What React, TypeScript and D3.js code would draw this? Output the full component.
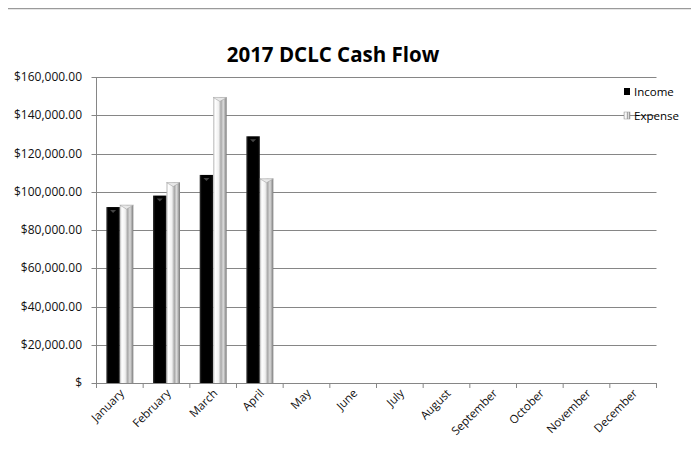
import React from "react";
import * as d3 from "d3";

const months = ["January","February","March","April","May","June","July","August","September","October","November","December"];
const income = [92000, 98000, 108800, 129000, null, null, null, null, null, null, null, null];
const expense = [93000, 104800, 149300, 106800, null, null, null, null, null, null, null, null];
const yTicks = [0, 20000, 40000, 60000, 80000, 100000, 120000, 140000, 160000];
const title = "2017 DCLC Cash Flow";
const seriesNames = ["Income", "Expense"];

const W = 699, H = 449;
const plot = { left: 96.5, right: 656.5, top: 77, bottom: 383 };
const font = "'Open Sans', 'Noto Sans', sans-serif";

export default function App() {
  const x = d3.scaleBand<string>().domain(months).range([plot.left, plot.right]).paddingInner(0).paddingOuter(0);
  const y = d3.scaleLinear().domain([0, 160000]).range([plot.bottom, plot.top]);
  const bw = x.bandwidth();
  const barW = 13.5;
  const gap = (bw - 2 * barW) / 2;
  const fmt = (v: number) => (v === 0 ? "$" : "$" + d3.format(",.2f")(v));

  return (
    <div style={{ margin: -8 }}>
      <svg width={W} height={H} style={{ display: "block", background: "#fff" }}>
        <defs>
          <linearGradient id="gInc" x1="0" x2="1" y1="0" y2="0">
            <stop offset="0%" stopColor="#3a3a3a" />
            <stop offset="15%" stopColor="#000" />
            <stop offset="85%" stopColor="#000" />
            <stop offset="100%" stopColor="#1a1a1a" />
          </linearGradient>
          <linearGradient id="gExp" x1="0" x2="1" y1="0" y2="0">
            <stop offset="0%" stopColor="#b8b8b8" />
            <stop offset="15%" stopColor="#ffffff" />
            <stop offset="40%" stopColor="#f0f0f0" />
            <stop offset="58%" stopColor="#a8a8a8" />
            <stop offset="75%" stopColor="#dcdcdc" />
            <stop offset="100%" stopColor="#7a7a7a" />
          </linearGradient>
        </defs>
        {/* chart frame */}
        <line x1={4.5} x2={W} y1={8.5} y2={8.5} stroke="#9a9a9a" strokeWidth={1.5} />
        <line x1={4.5} x2={4.5} y1={8.5} y2={H} stroke="#8a8a8a" strokeWidth={1.5} />

        <text x={333} y={62} textAnchor="middle" fontFamily={font} fontWeight="bold" fontSize={20.5} fill="#000">{title}</text>

        {/* gridlines */}
        {yTicks.map((t) => (
          <line key={"g" + t} x1={plot.left - 5} x2={plot.right} y1={Math.round(y(t)) + 0.5} y2={Math.round(y(t)) + 0.5} stroke="#868686" strokeWidth={1} />
        ))}
        {yTicks.map((t) => (
          <text key={"yl" + t} x={82} y={y(t) + 4} textAnchor="end" fontFamily={font} fontSize={12} fill="#111">{fmt(t)}</text>
        ))}
        {/* y axis */}
        <line x1={plot.left} x2={plot.left} y1={plot.top} y2={plot.bottom} stroke="#868686" strokeWidth={1} />

        {/* bars */}
        {months.map((m, i) => {
          const x0 = (x(m) as number) + gap;
          const a = income[i];
          const b = expense[i];
          return (
            <g key={m}>
              {a != null && (
                <g>
                  <rect x={x0} y={y(a)} width={barW} height={plot.bottom - y(a)} fill="url(#gInc)" />
                  <path d={`M${x0 + barW / 2 - 3},${y(a) + 3} l3,3 l3,-3 Z`} fill="#444" />
                </g>
              )}
              {b != null && (
                <g>
                  <rect x={x0 + barW} y={y(b)} width={barW} height={plot.bottom - y(b)} fill="url(#gExp)" />
                  <path d={`M${x0 + barW},${y(b)} l${barW / 2},4 l${barW / 2},-4 Z`} fill="#e8e8e8" stroke="#999" strokeWidth={0.5} />
                </g>
              )}
            </g>
          );
        })}

        {/* x axis */}
        <line x1={plot.left} x2={plot.right} y1={plot.bottom + 0.5} y2={plot.bottom + 0.5} stroke="#868686" strokeWidth={1} />
        {months.concat(["_end"]).map((m, i) => {
          const xx = plot.left + i * bw;
          return <line key={"t" + i} x1={xx} x2={xx} y1={plot.bottom} y2={plot.bottom + 5} stroke="#868686" />;
        })}
        {months.map((m) => {
          const cx = (x(m) as number) + bw / 2 + 5;
          const cy = plot.bottom + 11;
          return (
            <text key={"xl" + m} transform={`translate(${cx},${cy}) rotate(-45)`} textAnchor="end" fontFamily={font} fontSize={11.5} fill="#111">{m}</text>
          );
        })}

        {/* legend */}
        <rect x={624} y={88} width={6} height={7} fill="#000" />
        <text x={634} y={96} fontFamily={font} fontSize={11.5} fill="#000">{seriesNames[0]}</text>
        <rect x={624} y={112} width={6} height={7} fill="url(#gExp)" stroke="#999" strokeWidth={0.5} />
        <text x={634} y={120} fontFamily={font} fontSize={11.5} fill="#000">{seriesNames[1]}</text>
      </svg>
    </div>
  );
}
